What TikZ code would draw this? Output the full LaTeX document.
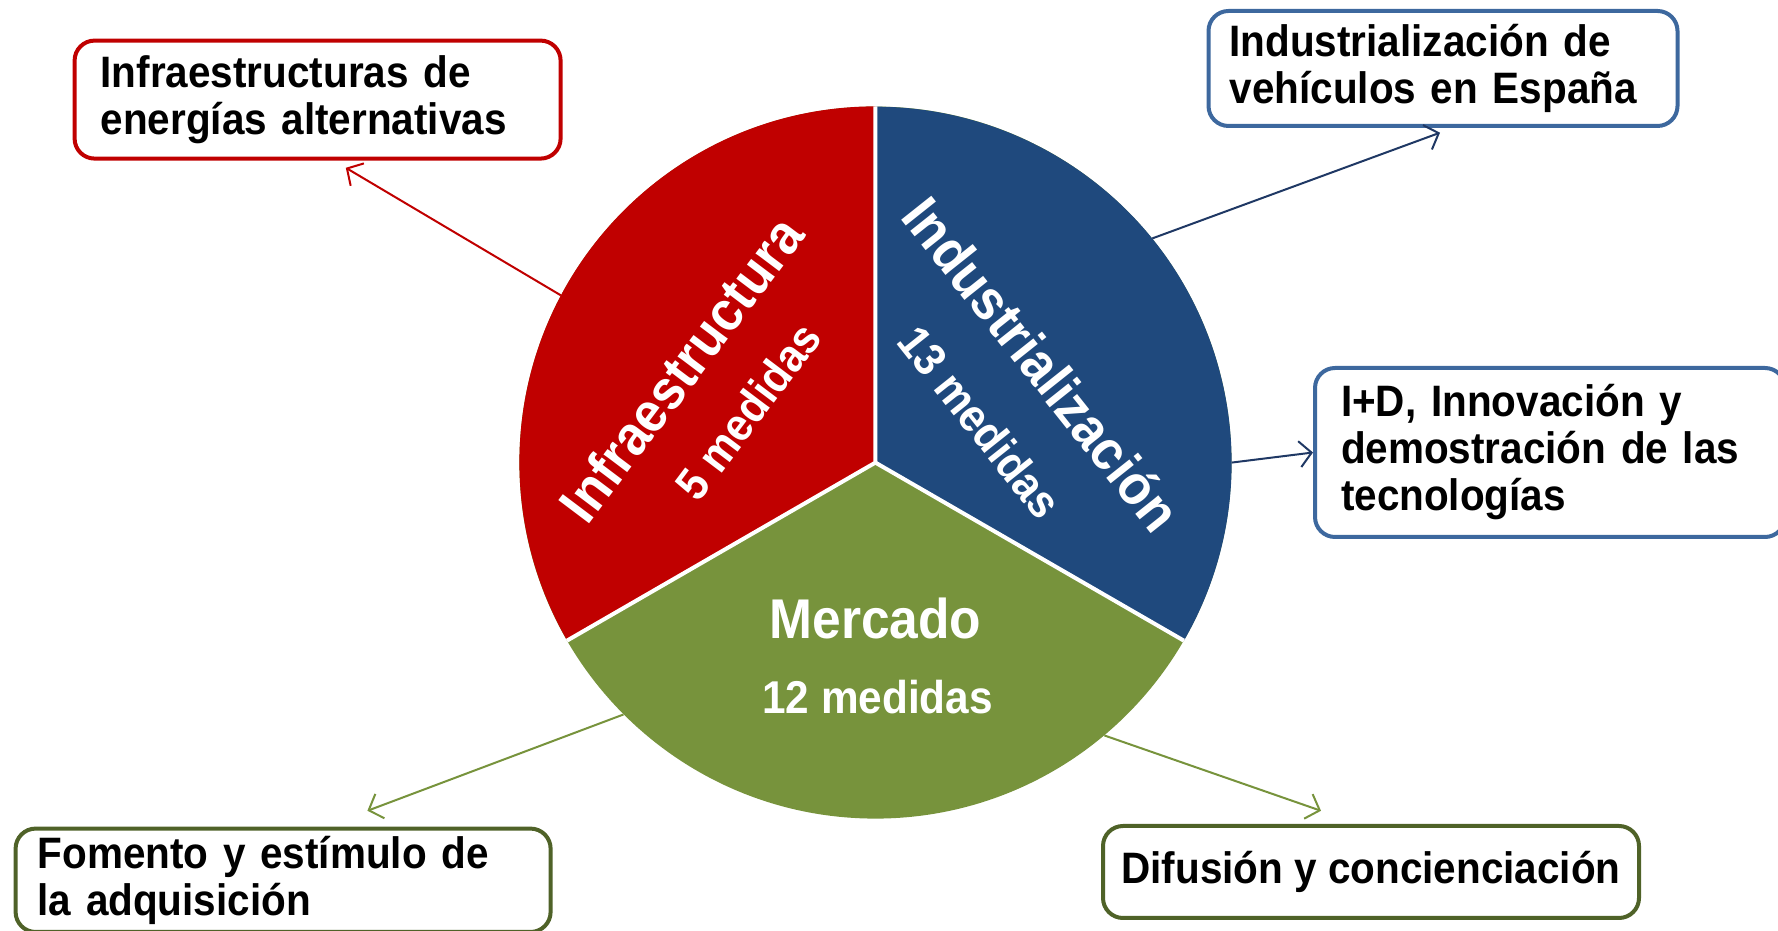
\documentclass[tikz,border=0pt]{standalone}
\usepackage{fontspec}
\setmainfont{Liberation Sans}[FakeStretch=0.92]
\usetikzlibrary{arrows.meta}
\definecolor{pred}{RGB}{192,0,0}
\definecolor{pblue}{RGB}{31,73,125}
\definecolor{pgreen}{RGB}{119,147,60}
\definecolor{bblue}{RGB}{61,104,158}
\definecolor{bgreen}{RGB}{79,98,40}
\definecolor{lblue}{RGB}{31,56,100}
\begin{document}
\begin{tikzpicture}[x=1pt,y=1pt,
  boxnode/.style={draw,line width=4pt,rounded corners=20pt,fill=white,anchor=north west,
    align=left,inner xsep=26pt,inner ysep=0pt,font=\fontsize{44}{47}\selectfont\bfseries,text=black},
  conn/.style={line width=2pt,-{Straight Barb[length=12pt,width=26pt,line width=2pt]}},
  bigtxt/.style={text=white,font=\fontsize{56}{58}\selectfont\bfseries,inner sep=0pt},
  medtxt/.style={text=white,font=\fontsize{46}{48}\selectfont\bfseries,inner sep=0pt}]
\useasboundingbox (0,0) rectangle (1778,931);
\clip (0,0) rectangle (1778,931);
% pie
\node[circle,minimum size=712pt,inner sep=0pt] (pie) at (875.4,468.4) {};
\fill[pgreen] (pie.center) circle[radius=356];
\fill[pred] (pie.center) -- (pie.90) arc[start angle=90,end angle=210,radius=356] -- cycle;
\fill[pblue] (pie.center) -- (pie.-30) arc[start angle=-30,end angle=90,radius=356] -- cycle;
\draw[white,line width=4pt] (pie.90) -- (pie.center) -- (pie.210) (pie.center) -- (pie.-30);
% pie texts
\node[bigtxt,rotate=53] (tinf) at (681,562) {Infraestructura};
\node[medtxt,rotate=53] (tinfm) at (748,520) {5 medidas};
\node[bigtxt,rotate=-51.5] (tind) at (1042,567) {Industrialización};
\node[medtxt,rotate=-51.5] (tindm) at (980,509) {13 medidas};
\node[bigtxt] (tmer) at (875.4,313) {Mercado};
\node[medtxt] (tmerm) at (877.6,233.6) {12 medidas};
% boxes
\node[boxnode,draw=pred,text width=434pt,minimum height=118pt] (b1) at (72.6,892.4)
  {Infraestructuras de\\energías alternativas};
\node[boxnode,draw=bblue,inner xsep=21pt,text width=427pt,minimum height=115pt] (b2) at (1206.5,922)
  {Industrialización de\\vehículos en España};
\node[boxnode,draw=bblue,text width=418pt,minimum height=169pt] (b3) at (1313,565)
  {I+D, Innovación y\\demostración de las\\tecnologías};
\node[boxnode,draw=bgreen,inner xsep=22pt,text width=491pt,minimum height=103.4pt] (b4) at (13.6,104.4)
  {Fomento y estímulo de\\la adquisición};
\node[boxnode,draw=bgreen,inner xsep=18pt,align=center,minimum width=536pt,minimum height=92pt] (b5) at (1101,107)
  {Difusión y concienciación};
% connector ends
\coordinate (e1) at (345.8,763.2);
\coordinate (e2) at (1440,798.3);
\coordinate (e4) at (367.4,120.2);
\coordinate (e5) at (1321,120.2);
\draw[conn,pred] (pie.152.5) -- (e1);
\draw[conn,lblue] (pie.39.5) -- (e2);
\draw[conn,lblue] (pie.0) -- (b3.west);
\draw[conn,pgreen] (pie.225) -- (e4);
\draw[conn,pgreen] (pie.-50.3) -- (e5);
\end{tikzpicture}
\end{document}
